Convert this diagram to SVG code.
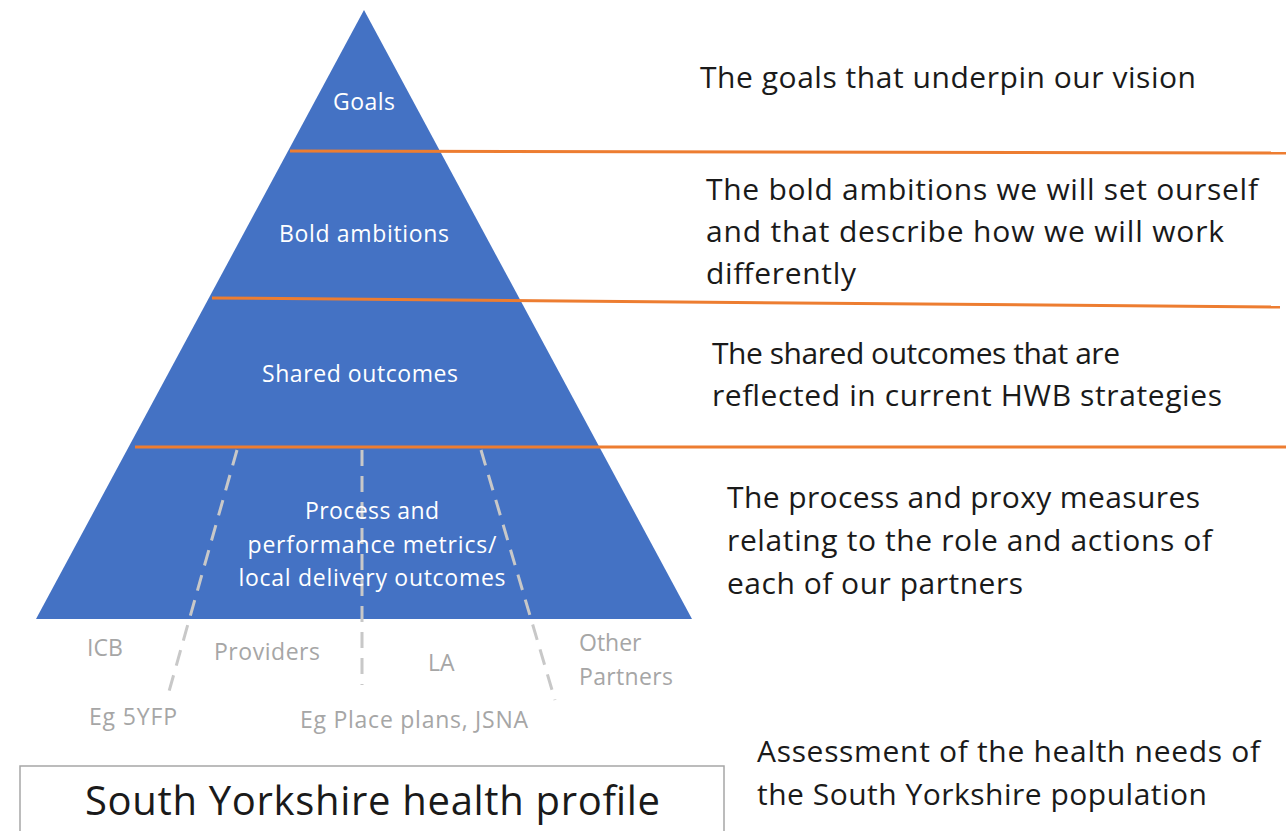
<svg xmlns="http://www.w3.org/2000/svg" width="1286" height="831" viewBox="0 0 1286 831">
<style>
text{font-family:"Open Sans","Liberation Sans",sans-serif}
.w{fill:#fff;font-size:23px;text-anchor:middle}
.r{fill:#1a1a1a;font-size:30px}
.g{fill:#a6a6a6;font-size:23px}
.o{stroke:#ed7d31;stroke-width:3;fill:none}
.d{stroke:#c8c8c8;stroke-width:3;stroke-dasharray:16 10;fill:none}
</style>
<rect width="1286" height="831" fill="#fff"/>
<g id="pyramid">
<polygon points="364,10 36,619 692,619" fill="#4472c4"/>
</g>
<g id="connectors">
<line class="o" x1="290" y1="151" x2="1286" y2="153"/>
<line class="o" x1="212" y1="298" x2="1280" y2="307"/>
<line class="o" x1="135" y1="447" x2="1286" y2="447"/>
<line class="d" x1="237" y1="450" x2="168" y2="695"/>
<line class="d" x1="362" y1="450" x2="362" y2="685"/>
<line class="d" x1="481" y1="450" x2="555" y2="700"/>
</g>
<g id="goals"><text class="w" x="364" y="110" textLength="62">Goals</text>
<text class="r" x="700" y="88" textLength="496">The goals that underpin our vision</text></g>
<g id="bold"><text class="w" x="364" y="242" textLength="170">Bold ambitions</text>
<text class="r" x="706" y="200" textLength="552">The bold ambitions we will set ourself</text>
<text class="r" x="706" y="242" textLength="518">and that describe how we will work</text>
<text class="r" x="706" y="284" textLength="150">differently</text></g>
<g id="shared"><text class="w" x="360" y="382" textLength="196">Shared outcomes</text>
<text class="r" x="712" y="364" textLength="408">The shared outcomes that are</text>
<text class="r" x="712" y="406" textLength="510">reflected in current HWB strategies</text></g>
<g id="process"><text class="w" x="372" y="519" textLength="134">Process and</text>
<text class="w" x="372" y="553" textLength="249">performance metrics/</text>
<text class="w" x="372" y="586" textLength="267">local delivery outcomes</text>
<text class="r" x="727" y="508" textLength="473">The process and proxy measures</text>
<text class="r" x="727" y="551" textLength="485">relating to the role and actions of</text>
<text class="r" x="727" y="594" textLength="296">each of our partners</text></g>
<g id="partners">
<text class="g" x="87" y="656">ICB</text>
<text class="g" x="214" y="660" textLength="106">Providers</text>
<text class="g" x="428" y="671">LA</text>
<text class="g" x="579" y="651">Other</text>
<text class="g" x="579" y="685" textLength="94">Partners</text>
<text class="g" x="89" y="725" textLength="88">Eg 5YFP</text>
<text class="g" x="300" y="728" textLength="228">Eg Place plans, JSNA</text>
</g>
<g id="profile">
<rect x="20" y="766" width="704" height="80" fill="#fff" stroke="#a6a6a6" stroke-width="1.5"/>
<text x="85" y="815" textLength="575" style="font-size:40px;fill:#1a1a1a">South Yorkshire health profile</text>
<text class="r" x="757" y="762" textLength="503">Assessment of the health needs of</text>
<text class="r" x="757" y="805" textLength="450">the South Yorkshire population</text>
</g>
</svg>
